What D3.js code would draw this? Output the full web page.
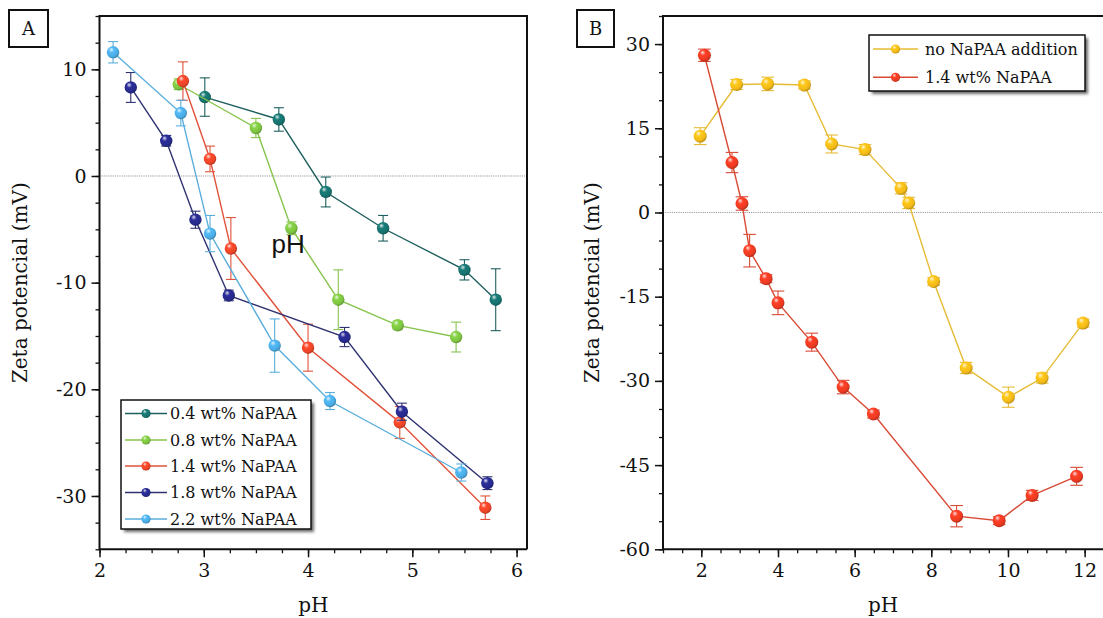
<!DOCTYPE html>
<html>
<head>
<meta charset="utf-8">
<script src="https://cdn.jsdelivr.net/npm/d3@7"></script>
<style>
  html, body { margin: 0; padding: 0; background: #fff; }
  svg { display: block; }
  text { font-family: "DejaVu Serif", "Liberation Serif", serif; fill: #111; }
  text.sans { font-family: "Liberation Sans", Arial, sans-serif; }
</style>
</head>
<body>
<svg id="chart" width="1103" height="618"></svg>
<script>
// ---- Panel A: zeta potential vs pH for several NaPAA dosages ----
const seriesNamesA = ["0.4 wt% NaPAA", "0.8 wt% NaPAA", "1.4 wt% NaPAA", "1.8 wt% NaPAA", "2.2 wt% NaPAA"];
const colorsA = ["#17716e", "#7cc241", "#ea4428", "#272a8c", "#4aaae2"];
const lineColorsA = ["#1d5f5d", "#86c44e", "#e0523a", "#2e3270", "#5aaedc"];

const pH04 = [3.01, 3.72, 4.17, 4.72, 5.50, 5.80];
const zeta04 = [7.4, 5.3, -1.5, -4.9, -8.8, -11.6];
const err04 = [1.8, 1.1, 1.4, 1.2, 0.95, 2.9];

const pH08 = [2.76, 3.50, 3.84, 4.29, 4.86, 5.42];
const zeta08 = [8.6, 4.5, -4.9, -11.6, -14.0, -15.1];
const err08 = [0.5, 0.9, 0.6, 2.8, 0.4, 1.4];

const pH14 = [2.80, 3.06, 3.26, 4.00, 4.88, 5.70];
const zeta14 = [8.9, 1.6, -6.8, -16.1, -23.1, -31.1];
const err14 = [1.8, 1.2, 2.9, 2.2, 1.5, 1.1];

const pH18 = [2.30, 2.64, 2.92, 3.24, 4.35, 4.90, 5.72];
const zeta18 = [8.3, 3.3, -4.1, -11.2, -15.1, -22.1, -28.8];
const err18 = [1.4, 0.5, 0.8, 0.5, 0.9, 0.8, 0.6];

const pH22 = [2.13, 2.78, 3.06, 3.68, 4.21, 5.47];
const zeta22 = [11.6, 5.9, -5.4, -15.9, -21.1, -27.8];
const err22 = [1.0, 1.2, 1.7, 2.5, 0.8, 0.8];

const xTicksA = [2, 3, 4, 5, 6];
const yTicksA = [-30, -20, -10, 0, 10];

// ---- Panel B: without NaPAA vs 1.4 wt% NaPAA over a wider pH range ----
const seriesNamesB = ["no NaPAA addition", "1.4 wt% NaPAA"];
const colorsB = ["#f0b818", "#ea3a22"];
const lineColorsB = ["#e6bb34", "#d94a36"];

const pHNone = [1.97, 2.92, 3.73, 4.69, 5.40, 6.27, 7.21, 7.41, 8.06, 8.91, 10.01, 10.89, 11.96];
const zetaNone = [13.6, 22.8, 22.9, 22.7, 12.2, 11.2, 4.3, 1.7, -12.3, -27.7, -32.9, -29.5, -19.7];
const errNone = [1.5, 0.9, 1.2, 0.7, 1.6, 0.9, 1.0, 1.0, 0.7, 1.0, 1.8, 0.9, 0.7];

const pHB14 = [2.08, 2.80, 3.06, 3.26, 3.69, 4.00, 4.88, 5.70, 6.49, 8.66, 9.77, 10.63, 11.79];
const zetaB14 = [28.0, 8.9, 1.6, -6.8, -11.8, -16.1, -23.1, -31.1, -35.9, -54.1, -54.9, -50.4, -47.0];
const errB14 = [1.1, 1.8, 1.2, 2.9, 0.7, 2.1, 1.6, 1.2, 0.7, 1.9, 0.7, 0.9, 1.6];

const xTicksB = [2, 4, 6, 8, 10, 12];
const yTicksB = [-60, -45, -30, -15, 0, 15, 30];

const svg = d3.select("#chart");
const defs = svg.append("defs");
const fmt = d => String(d);   // plain hyphen for negatives

// glossy sphere fill for each marker colour
function sphereFill(id, color) {
  const c = d3.color(color);
  const g = defs.append("radialGradient").attr("id", id)
    .attr("cx", "40%").attr("cy", "38%").attr("r", "62%")
    .attr("fx", "36%").attr("fy", "28%");
  g.append("stop").attr("offset", "0%").attr("stop-color", d3.interpolateRgb(color, "#fff")(0.85));
  g.append("stop").attr("offset", "35%").attr("stop-color", c.brighter(0.25).formatHex());
  g.append("stop").attr("offset", "80%").attr("stop-color", color);
  g.append("stop").attr("offset", "100%").attr("stop-color", c.darker(0.7).formatHex());
  return `url(#${id})`;
}

const shadow = defs.append("filter").attr("id", "legShadow")
  .attr("x", "-10%").attr("y", "-10%").attr("width", "130%").attr("height", "130%");
shadow.append("feGaussianBlur").attr("stdDeviation", 1.6);

function zip(xs, ys, es) { return xs.map((x, i) => ({ x, y: ys[i], e: es[i] })); }

function drawPanel(cfg) {
  const { x, y, xTicks, yTicks, xMinor, yMinor, series, label, labelBox } = cfg;
  const g = svg.append("g");
  const [x0, x1] = x.range();
  const [yb, yt] = y.range();
  const right = Math.min(x1, 1110);

  // zero reference line
  g.append("line")
    .attr("x1", x0).attr("x2", right)
    .attr("y1", y(0)).attr("y2", y(0))
    .attr("stroke", "#9a9a9a").attr("stroke-width", 1)
    .attr("stroke-dasharray", "1.2,1");

  // minor ticks
  g.append("g").attr("transform", `translate(0,${yb})`)
    .call(d3.axisBottom(x).tickValues(xMinor).tickSize(4).tickFormat(""))
    .call(a => a.select(".domain").remove())
    .selectAll("line").attr("stroke", "#111").attr("stroke-width", 1.3);
  g.append("g").attr("transform", `translate(${x0},0)`)
    .call(d3.axisLeft(y).tickValues(yMinor).tickSize(4).tickFormat(""))
    .call(a => a.select(".domain").remove())
    .selectAll("line").attr("stroke", "#111").attr("stroke-width", 1.3);

  // major ticks with labels
  const ax = g.append("g").attr("transform", `translate(0,${yb})`)
    .call(d3.axisBottom(x).tickValues(xTicks).tickSize(8).tickPadding(6).tickFormat(fmt));
  ax.select(".domain").remove();
  ax.selectAll("line").attr("stroke", "#111").attr("stroke-width", 1.5);
  ax.selectAll("text").attr("font-size", 19).attr("font-family", null).attr("fill", "#111");

  const ay = g.append("g").attr("transform", `translate(${x0},0)`)
    .call(d3.axisLeft(y).tickValues(yTicks).tickSize(8).tickPadding(5).tickFormat(fmt));
  ay.select(".domain").remove();
  ay.selectAll("line").attr("stroke", "#111").attr("stroke-width", 1.5);
  ay.selectAll("text").attr("font-size", 19).attr("font-family", null).attr("fill", "#111");

  // frame
  g.append("path")
    .attr("d", `M${right},${yb}H${x0}V${yt}H${right}` + (x1 <= 1103 ? `V${yb}` : ""))
    .attr("fill", "none").attr("stroke", "#111").attr("stroke-width", 2);

  // series: line, error bars, spheres
  series.forEach((s, si) => {
    const pts = zip(s.xs, s.ys, s.es);
    const sg = g.append("g");
    sg.append("path").datum(pts)
      .attr("d", d3.line().x(d => x(d.x)).y(d => y(d.y)))
      .attr("fill", "none").attr("stroke", s.line).attr("stroke-width", 1.4);
    const eb = sg.selectAll(".eb").data(pts).join("g").attr("stroke", s.line).attr("stroke-width", 1.1);
    eb.append("line").attr("x1", d => x(d.x)).attr("x2", d => x(d.x))
      .attr("y1", d => y(d.y - d.e)).attr("y2", d => y(d.y + d.e));
    [1, -1].forEach(sg2 => {
      eb.append("line").attr("x1", d => x(d.x) - s.cap).attr("x2", d => x(d.x) + s.cap)
        .attr("y1", d => y(d.y + sg2 * d.e)).attr("y2", d => y(d.y + sg2 * d.e));
    });
    sg.selectAll("circle").data(pts).join("circle")
      .attr("cx", d => x(d.x)).attr("cy", d => y(d.y)).attr("r", s.r)
      .attr("fill", sphereFill(`sph${label}${si}`, s.color));
  });

  // panel letter in a box
  g.append("rect").attr("x", labelBox[0]).attr("y", labelBox[1])
    .attr("width", labelBox[2]).attr("height", labelBox[3])
    .attr("fill", "#fff").attr("stroke", "#111").attr("stroke-width", 2);
  g.append("text").attr("x", labelBox[0] + labelBox[2] / 2).attr("y", labelBox[1] + labelBox[3] / 2 + 6.5)
    .attr("text-anchor", "middle").attr("font-size", 18).text(label);

  // axis titles
  g.append("text").attr("x", (x0 + Math.min(x1, 1103)) / 2 + cfg.xTitleShift).attr("y", 612)
    .attr("text-anchor", "middle").attr("font-size", 20).text("pH");
  g.append("text")
    .attr("transform", `translate(${cfg.yTitleX},${(yt + yb) / 2}) rotate(-90)`)
    .attr("text-anchor", "middle").attr("font-size", 20).text("Zeta potencial (mV)");
  return g;
}

function drawLegend(g, items, box, rowY, lineX, textX) {
  g.append("rect").attr("x", box[0] + 3).attr("y", box[1] + 3)
    .attr("width", box[2]).attr("height", box[3])
    .attr("fill", "#6a6a6a").attr("filter", "url(#legShadow)");
  g.append("rect").attr("x", box[0]).attr("y", box[1])
    .attr("width", box[2]).attr("height", box[3])
    .attr("fill", "#fff").attr("stroke", "#111").attr("stroke-width", 1.5);
  items.forEach((it, i) => {
    const cy = rowY[i];
    g.append("line").attr("x1", lineX[0]).attr("x2", lineX[1]).attr("y1", cy).attr("y2", cy)
      .attr("stroke", it.line).attr("stroke-width", 1.4);
    g.append("circle").attr("cx", (lineX[0] + lineX[1]) / 2).attr("cy", cy).attr("r", 4.6)
      .attr("fill", `url(#${it.grad})`);
    g.append("text").attr("x", textX).attr("y", cy + 5.5).attr("font-size", 16).text(it.name);
  });
}

// ---- Panel A ----
const xA = d3.scaleLinear().domain([2, 6.1]).range([99.5, 527]);
const yA = d3.scaleLinear().domain([-35, 15]).range([549.3, 16]);
const seriesA = [
  { xs: pH04, ys: zeta04, es: err04 },
  { xs: pH08, ys: zeta08, es: err08 },
  { xs: pH14, ys: zeta14, es: err14 },
  { xs: pH18, ys: zeta18, es: err18 },
  { xs: pH22, ys: zeta22, es: err22 }
].map((s, i) => ({ ...s, color: colorsA[i], line: lineColorsA[i], r: 6.2, cap: 5 }));

const gA = drawPanel({
  x: xA, y: yA, xTicks: xTicksA, yTicks: yTicksA,
  xMinor: d3.range(2, 6.1, 0.25), yMinor: d3.range(-35, 15.1, 2.5),
  series: seriesA, label: "A", labelBox: [9, 10, 39, 37],
  xTitleShift: 0, yTitleX: 27
});

// free-standing "pH" annotation inside panel A
gA.append("text").attr("class", "sans").attr("x", xA(3.65)).attr("y", yA(-7.2))
  .attr("font-size", 26).attr("fill", "#111").text("pH");

drawLegend(gA,
  seriesNamesA.map((n, i) => ({ name: n, line: lineColorsA[i], grad: `sphA${i}` })),
  [121, 400, 190, 129], [413.5, 440, 466, 492.5, 519], [125, 167], 170);

// ---- Panel B ----
const xB = d3.scaleLinear().domain([1, 13]).range([663, 663 + 12 * 38.33]);
const yB = d3.scaleLinear().domain([-60, 35]).range([549.3, 16]);
const seriesB = [
  { xs: pHNone, ys: zetaNone, es: errNone },
  { xs: pHB14, ys: zetaB14, es: errB14 }
].map((s, i) => ({ ...s, color: colorsB[i], line: lineColorsB[i], r: 6.5, cap: 6.3 }));

const gB = drawPanel({
  x: xB, y: yB, xTicks: xTicksB, yTicks: yTicksB,
  xMinor: d3.range(1, 13.01, 0.5), yMinor: d3.range(-60, 35.1, 5),
  series: seriesB, label: "B", labelBox: [577, 10, 37, 37],
  xTitleShift: 0, yTitleX: 599
});

drawLegend(gB,
  seriesNamesB.map((n, i) => ({ name: n, line: lineColorsB[i], grad: `sphB${i}` })),
  [869, 35, 216, 56], [49, 77.3], [873, 918], 925);
</script>
</body>
</html>
